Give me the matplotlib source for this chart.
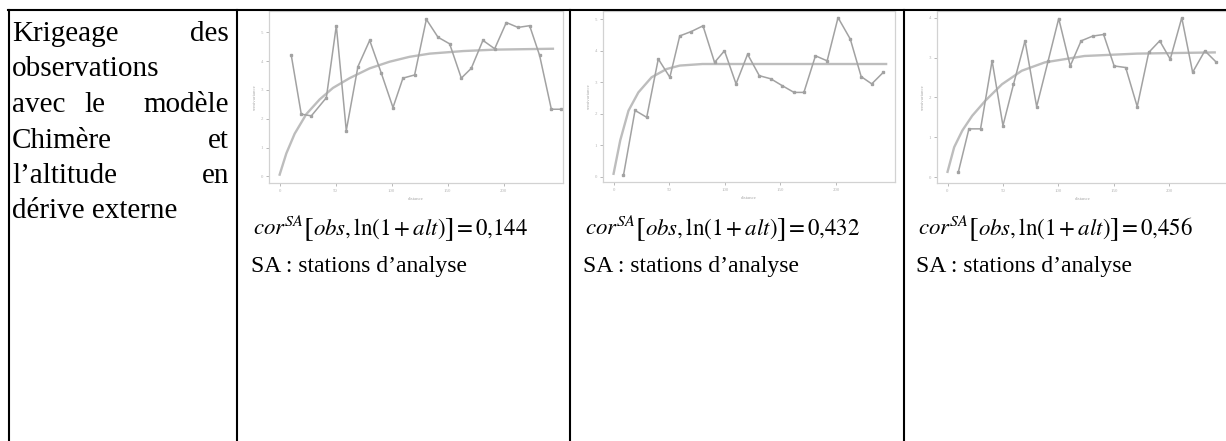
#!/usr/bin/env python
import matplotlib
matplotlib.use('Agg')
from matplotlib import rcParams

rcParams['font.family'] = 'serif'
rcParams['font.serif'] = ['Liberation Serif']
rcParams['mathtext.fontset'] = 'stix'

import matplotlib.pyplot as plt
from matplotlib.lines import Line2D

W, H = 1226, 441

dist_1 = [10.4, 19.3, 28.3, 41.7, 50.6, 59.5, 69.9, 80.4, 90.8, 101.2, 110.1, 120.5,
          131.0, 141.4, 151.8, 162.2, 171.1, 181.5, 192.0, 202.4, 212.8, 223.2, 232.1,
          242.6, 251.5]
gamma_1 = [4.20, 2.16, 2.10, 2.73, 5.23, 1.59, 3.81, 4.72, 3.58, 2.39, 3.41, 3.52,
           5.45, 4.83, 4.60, 3.41, 3.75, 4.72, 4.43, 5.34, 5.17, 5.23, 4.20, 2.33, 2.33]
model_dist_1 = [0, 6.0, 13.4, 23.8, 35.7, 47.6, 62.5, 80.4, 98.2, 116, 134, 164, 193, 244]
model_gamma_1 = [0.06, 0.80, 1.48, 2.16, 2.67, 3.07, 3.41, 3.75, 3.98, 4.15, 4.26, 4.35,
                 4.40, 4.43]

dist_2 = [8.9, 19.3, 29.8, 40.2, 50.6, 59.5, 69.9, 80.4, 90.8, 99.7, 110.1, 120.5,
          131.0, 141.4, 151.8, 162.2, 171.1, 181.5, 192.0, 201.8, 212.8, 222.6, 232.1,
          242.6]
gamma_2 = [0.05, 2.11, 1.89, 3.74, 3.16, 4.47, 4.61, 4.79, 3.63, 4.00, 2.95, 3.89,
           3.21, 3.11, 2.89, 2.68, 2.68, 3.84, 3.68, 5.05, 4.37, 3.18, 2.95, 3.32]
model_dist_2 = [0, 6.0, 13.4, 22.3, 34.2, 47.6, 59.5, 80.0, 120, 180, 245]
model_gamma_2 = [0.10, 1.16, 2.10, 2.68, 3.16, 3.42, 3.53, 3.58, 3.58, 3.58, 3.58]

dist_3 = [9.8, 19.3, 29.8, 40.2, 50.0, 59.5, 69.9, 80.4, 90.8, 100.3, 110.7, 120.5,
          131.0, 140.8, 150.3, 160.7, 171.1, 181.5, 191.4, 200.9, 211.3, 221.1, 232.1,
          242.6]
gamma_3 = [0.13, 1.21, 1.21, 2.92, 1.29, 2.33, 3.42, 1.77, 2.92, 3.98, 2.79, 3.42,
           3.54, 3.58, 2.79, 2.75, 1.77, 3.13, 3.42, 2.96, 4.00, 2.63, 3.17, 2.88]
model_dist_3 = [0, 6.0, 13.4, 22.3, 34.2, 49.1, 67, 87.8, 105.7, 123.5, 171, 241]
model_gamma_3 = [0.13, 0.75, 1.17, 1.54, 1.92, 2.33, 2.67, 2.88, 2.96, 3.04, 3.10, 3.13]

correlations = ['0,144', '0,432', '0,456']
x_ticks = [0, 50, 100, 150, 200]

# left cell, one entry per line: list of (word, x, align)
left_lines = [
    [('Krigeage', 12, 'left'), ('des', 229, 'right')],
    [('observations', 12, 'left')],
    [('avec', 12, 'left'), ('le', 84, 'left'), ('modèle', 229, 'right')],
    [('Chimère', 12, 'left'), ('et', 229, 'right')],
    [('l\u2019altitude', 12, 'left'), ('en', 229, 'right')],
    [('dérive externe', 12, 'left')],
]

GRAY = '#a2a2a2'
LIGHT = '#bdbdbd'


def fx(x):
    return x / W


def fy(y):
    return 1 - y / H


def draw_variogram(fig, box, d, g, md, mg, ylim, yticks):
    left, top, right, bottom = box
    ax = fig.add_axes([fx(left), fy(bottom), fx(right - left), (bottom - top) / H])
    ax.plot(md, mg, color=LIGHT, lw=1.7, zorder=1)
    ax.plot(d, g, color=GRAY, lw=1.1, marker='s', ms=1.6, zorder=2)
    ax.set_xlim(-9.5, 253)
    ax.set_ylim(*ylim)
    ax.set_xticks(x_ticks)
    ax.set_xticklabels([str(t) for t in x_ticks])
    ax.set_yticks(yticks)
    ax.set_yticklabels([str(t) for t in yticks])
    ax.tick_params(colors='#b8b8b8', labelcolor='#b5b5b5', length=2, width=0.7,
                   labelsize=3.5, pad=2)
    for s in ax.spines.values():
        s.set_color('#d2d2d2')
        s.set_linewidth(0.9)
    ax.set_xlabel('distance', fontsize=3.5, color='#a8a8a8', labelpad=3)
    ax.set_ylabel('semivariance', fontsize=3.5, color='#a8a8a8', labelpad=3)
    return ax


def write_formula(fig, renderer, x0, base, value):
    # pieces laid one after another so the brackets can be a bit taller
    pieces = [
        (r'$\mathit{cor}^{SA}$', 16.5, 0, -1),
        (r'$[$', 21, 2, -1),
        (r'$\mathit{obs},\mathrm{ln}(1+\mathit{alt})$', 16.5, 0, -1),
        (r'$]$', 21, 2, 0),
        (r'$=0{,}' + value[2:] + r'$', 16.5, 0, 0),
    ]
    x = x0
    for s, fs, drop, gap in pieces:
        t = fig.text(fx(x), fy(base + drop), s, fontsize=fs, ha='left', va='baseline')
        bb = t.get_window_extent(renderer)
        x = bb.x1 + gap


def main():
    fig = plt.figure(figsize=(W / 100, H / 100), dpi=100)
    renderer = fig.canvas.get_renderer()

    # table borders
    lw = 1.5
    fig.add_artist(Line2D([fx(8), 1], [fy(9.5), fy(9.5)], color='black', lw=lw, zorder=10))
    for xs in [9, 237, 570, 904]:
        fig.add_artist(Line2D([fx(xs), fx(xs)], [fy(9.5), 0], color='black', lw=lw, zorder=10))

    # left cell text, justified by hand
    for i, line in enumerate(left_lines):
        base = 41 + 35.5 * i
        for word, x, ha in line:
            fig.text(fx(x), fy(base), word, fontsize=21, ha=ha, va='baseline')

    panels = [
        ((269, 11, 563, 183), dist_1, gamma_1, model_dist_1, model_gamma_1,
         (-0.23, 5.74), [0, 1, 2, 3, 4, 5]),
        ((603, 11, 895, 182), dist_2, gamma_2, model_dist_2, model_gamma_2,
         (-0.16, 5.26), [0, 1, 2, 3, 4, 5]),
        ((937, 11, 1228, 183), dist_3, gamma_3, model_dist_3, model_gamma_3,
         (-0.15, 4.17), [0, 1, 2, 3, 4]),
    ]
    starts = [253, 585, 918]
    for (box, d, g, md, mg, ylim, yt), x0, c in zip(panels, starts, correlations):
        draw_variogram(fig, box, d, g, md, mg, ylim, yt)
        write_formula(fig, renderer, x0, 235, c)
        fig.text(fx(x0 - 2), fy(272), 'SA : stations d\u2019analyse', fontsize=17,
                 ha='left', va='baseline')

    fig.savefig('out.png', dpi=100)


if __name__ == '__main__':
    main()
